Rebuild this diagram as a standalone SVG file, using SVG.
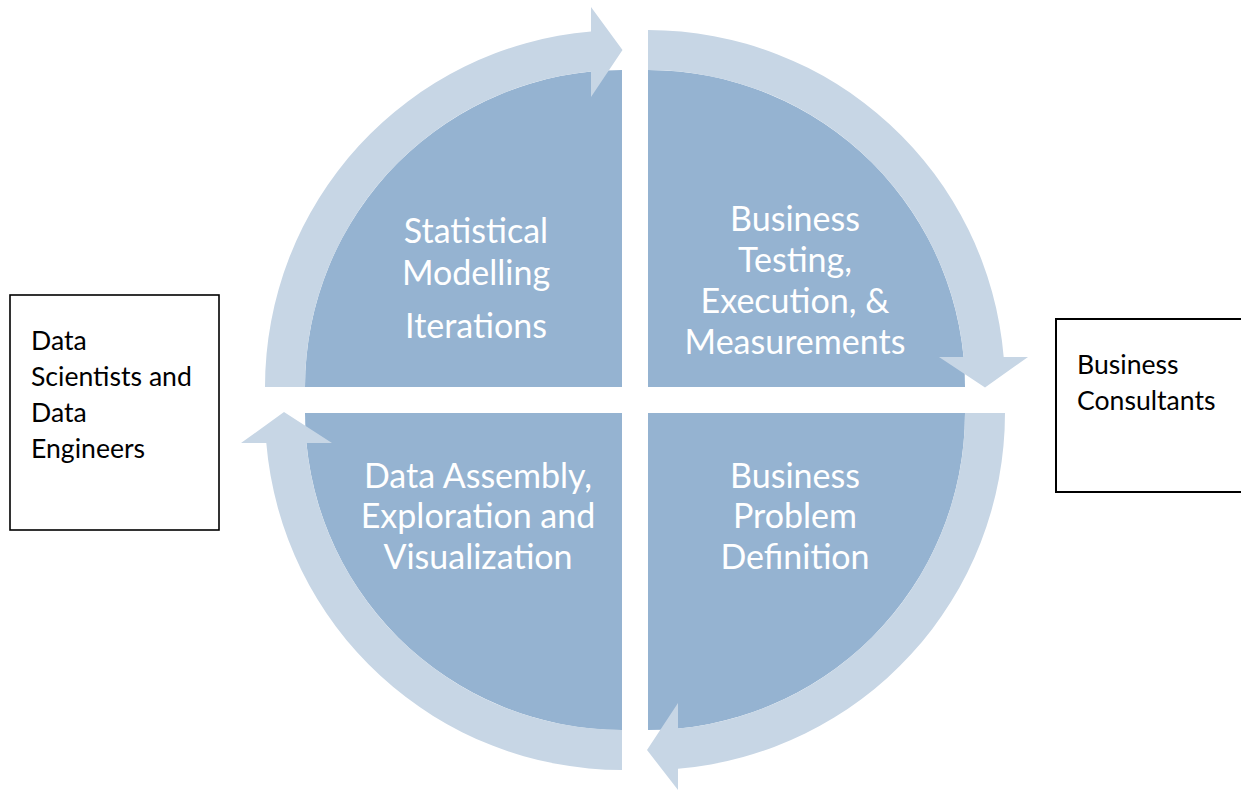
<svg xmlns="http://www.w3.org/2000/svg" width="1241" height="791" viewBox="0 0 1241 791">
<style>
.q{fill:#95B3D1}
.arr{fill:#C7D6E5}
.qt{font-family:Lato,"Liberation Sans",sans-serif;font-size:34px;fill:#FFFFFF;text-anchor:middle}
.box{fill:#FFFFFF;stroke:#000000;stroke-width:1.6}
.bt{font-family:Lato,"Liberation Sans",sans-serif;font-size:26.6px;fill:#000000}
</style>
<rect width="1241" height="791" fill="#FFFFFF"/>
<g id="quad-top-left"><path class="q" d="M622,387 L305,387 A317,317 0 0 1 622,70 Z"/></g>
<g id="quad-top-right"><path class="q" d="M648,387 L648,70 A317,317 0 0 1 965,387 Z"/></g>
<g id="quad-bottom-right"><path class="q" d="M648,413 L965,413 A317,317 0 0 1 648,730 Z"/></g>
<g id="quad-bottom-left"><path class="q" d="M622,413 L622,730 A317,317 0 0 1 305,413 Z"/></g>
<g id="connectors">
<path class="arr" d="M265,387 A357,357 0 0 1 591,31.4 L591,7 L622.5,50 L591,97 L591,71.5 A317,317 0 0 0 305,387 Z"/>
<path class="arr" d="M648,30 A357,357 0 0 1 1003.7,357 L1028,357 L985,387.5 L939,357 L963.6,357 A317,317 0 0 0 648,70 Z"/>
<path class="arr" d="M1005,413 A357,357 0 0 1 678,768.7 L678,790 L647,750 L678,703 L678,728.6 A317,317 0 0 0 965,413 Z"/>
<path class="arr" d="M622,770 A357,357 0 0 1 266.3,443 L241,443 L284,412 L332,443 L306.4,443 A317,317 0 0 0 622,730 Z"/>
</g>
<g id="node-statistical">
<text class="qt" x="476" y="243">Statistical</text>
<text class="qt" x="476" y="285">Modelling</text>
<text class="qt" x="476" y="338">Iterations</text>
</g>
<g id="node-business-testing">
<text class="qt" x="795" y="231">Business</text>
<text class="qt" x="795" y="272">Testing,</text>
<text class="qt" x="795" y="313">Execution, &amp;</text>
<text class="qt" x="795" y="354">Measurements</text>
</g>
<g id="node-data-assembly">
<text class="qt" x="478" y="488">Data Assembly,</text>
<text class="qt" x="478" y="528">Exploration and</text>
<text class="qt" x="478" y="569">Visualization</text>
</g>
<g id="node-business-problem">
<text class="qt" x="795" y="488">Business</text>
<text class="qt" x="795" y="528">Problem</text>
<text class="qt" x="795" y="569">Definition</text>
</g>
<g id="node-data-scientists">
<rect class="box" x="10" y="295" width="209" height="235"/>
<text class="bt" x="31" y="350">Data</text>
<text class="bt" x="31" y="386">Scientists and</text>
<text class="bt" x="31" y="422">Data</text>
<text class="bt" x="31" y="458">Engineers</text>
</g>
<g id="node-business-consultants">
<rect class="box" x="1056" y="319" width="200" height="173" style="stroke-width:2"/>
<text class="bt" x="1077" y="374">Business</text>
<text class="bt" x="1077" y="410">Consultants</text>
</g>
</svg>
